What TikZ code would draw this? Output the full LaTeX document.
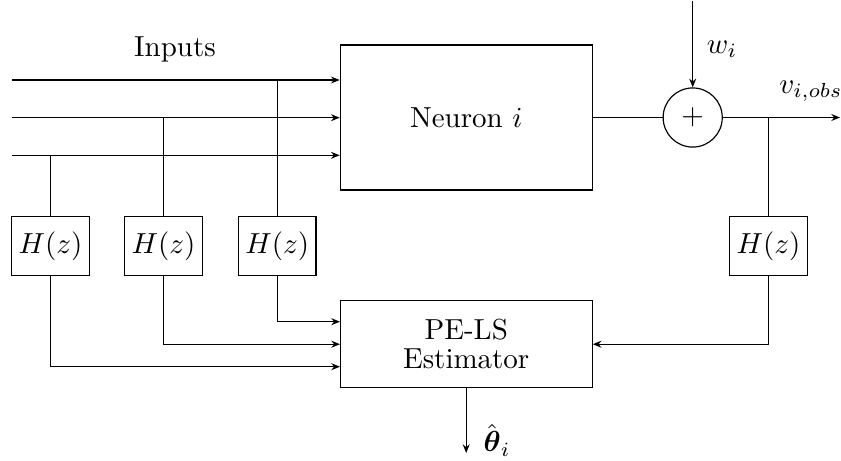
\documentclass[tikz,border=0pt]{standalone}
\usepackage{amsmath}
\usetikzlibrary{arrows.meta,calc}
\begin{document}
\begin{tikzpicture}[x=0.345pt,y=-0.345pt,
  line width=0.4pt,
  arr/.style={-{Stealth[length=3pt,width=2.4pt]}},
  blockbox/.style={draw,rectangle,inner sep=0pt},
  hbox/.style={blockbox,minimum width=26.8pt,minimum height=20.2pt},
  sumnode/.style={draw,circle,inner sep=0pt,minimum size=20.4pt}]
\useasboundingbox (0,0) rectangle (841,460);
% blocks
\node[blockbox,minimum width=86.9pt,minimum height=50pt] (neuron) at (466.2,117.5) {Neuron $i$};
\node[blockbox,minimum width=86.9pt,minimum height=30pt,align=center] (est) at (466.2,344.2) {PE-LS\\[-2pt]Estimator};
\node[hbox] (h1) at (50.5,246) {$H(z)$};
\node[hbox] (h2) at (163.6,246) {$H(z)$};
\node[hbox] (h3) at (277.2,246) {$H(z)$};
\node[hbox] (h4) at (768.5,246) {$H(z)$};
\node[sumnode] (sum) at (692.7,117.5) {$+$};
% labels
\node (inlab) at (175,49) {Inputs};
\node (wlab) at (722,49) {$w_i$};
\node (vlab) at (811,91) {$v_{i,obs}$};
\node (thlab) at (497,440) {$\hat{\boldsymbol{\theta}}_i$};
% coordinates
\coordinate (in1) at (12,80);
\coordinate (in2) at (12,117.7);
\coordinate (in3) at (12,155.3);
\coordinate (e1) at (340,321.7);
\coordinate (e2) at (340,344.2);
\coordinate (e3) at (340,366.7);
\coordinate (wtop) at (692.7,1);
\coordinate (outend) at (840,117.5);
\coordinate (br) at (768.5,117.5);
\coordinate (thend) at (466.2,453);
% inputs
\draw[arr] (in1) -- (in1 -| neuron.west);
\draw[arr] (in2) -- (in2 -| neuron.west);
\draw[arr] (in3) -- (in3 -| neuron.west);
\draw (h3.north |- in1) -- (h3.north);
\draw (h2.north |- in2) -- (h2.north);
\draw (h1.north |- in3) -- (h1.north);
\draw[arr] (h3.south) |- (e1);
\draw[arr] (h2.south) |- (e2);
\draw[arr] (h1.south) |- (e3);
% output
\draw (neuron.east |- sum) -- (sum.west);
\draw[arr] (wtop) -- (sum.north);
\draw[arr] (sum.east) -- (outend);
\draw (br) -- (h4.north);
\draw[arr] (h4.south) |- (est.east);
\draw[arr] (est.south) -- (thend);
\end{tikzpicture}
\end{document}
